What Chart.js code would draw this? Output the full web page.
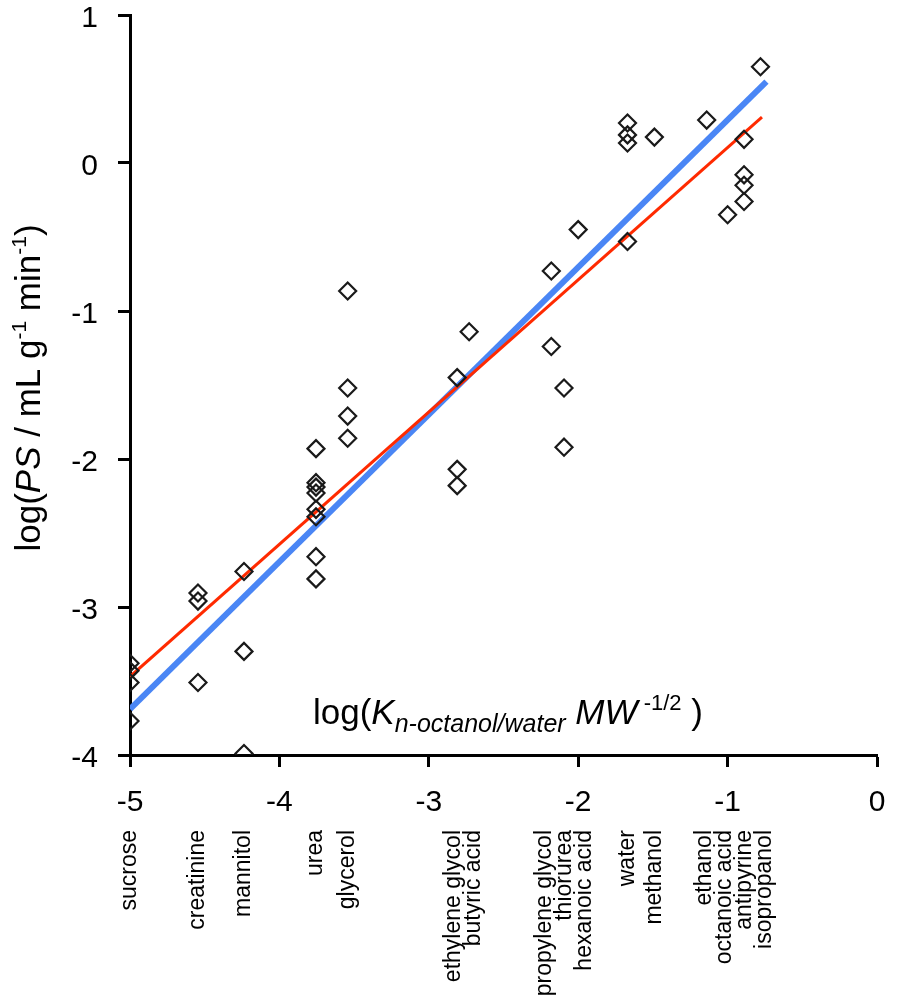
<!DOCTYPE html>
<html lang="en">
<head>
<meta charset="UTF-8">
<title>log PS vs log(K MW^-1/2)</title>
<style>
  html, body { margin: 0; padding: 0; background: #fff; }
  #wrap { width: 898px; height: 1003px; }
</style>
</head>
<body>
<div id="wrap"><canvas id="psChart" width="898" height="1003"></canvas></div>
<script src="https://cdn.jsdelivr.net/npm/chart.js"></script>
<script>
// compounds, their log(K n-octanol/water MW^-1/2) and measured log(PS)
const compounds = ['sucrose', 'creatinine', 'mannitol', 'urea', 'glycerol',
  'ethylene glycol', 'butyric acid', 'propylene glycol', 'thiorurea', 'hexanoic acid',
  'water', 'methanol', 'ethanol', 'octanoic acid', 'antipyrine', 'isopropanol'];
const compoundX = [-5.0, -4.545, -4.237, -3.755, -3.543,
  -2.81, -2.73, -2.18, -2.095, -2.0,
  -1.67, -1.49, -1.14, -1.0, -0.89, -0.78];
const compoundLogPS = [
  [-3.38, -3.43, -3.51, -3.77],
  [-2.905, -2.96, -3.51],
  [-2.76, -3.30, -3.99],
  [-1.93, -2.16, -2.19, -2.23, -2.34, -2.39, -2.66, -2.81],
  [-0.865, -1.52, -1.71, -1.86],
  [-1.45, -2.07, -2.18],
  [-1.14],
  [-0.73, -1.24],
  [-1.52, -1.92],
  [-0.45],
  [0.27, 0.19, 0.135, -0.53],
  [0.175],
  [0.29],
  [-0.35],
  [0.16, -0.08, -0.15, -0.26],
  [0.65]
];

const xTicks = [-5, -4, -3, -2, -1, 0];
const yTicks = [-4, -3, -2, -1, 0, 1];

// regression lines (end points)
const blueFitX = [-5, -0.74];
const blueFitY = [-3.69, 0.55];
const redFitX = [-5, -0.77];
const redFitY = [-3.47, 0.31];

const FONT = '"Liberation Sans", Arial, sans-serif';

const points = [];
compounds.forEach((c, i) => {
  compoundLogPS[i].forEach(v => points.push({ x: compoundX[i], y: v }));
});

// draws a list of text pieces one after the other (normal / italic / sub / sup)
function drawPieces(ctx, pieces, x, y) {
  let cx = x;
  pieces.forEach(p => {
    ctx.font = (p.italic ? 'italic ' : '') + p.size + 'px ' + FONT;
    ctx.fillText(p.t, cx, y + (p.dy || 0));
    cx += ctx.measureText(p.t).width;
  });
  return cx - x;
}
function piecesWidth(ctx, pieces) {
  let w = 0;
  pieces.forEach(p => {
    ctx.font = (p.italic ? 'italic ' : '') + p.size + 'px ' + FONT;
    w += ctx.measureText(p.t).width;
  });
  return w;
}

const xTitle = [
  { t: 'log(', size: 35 },
  { t: 'K', size: 35, italic: true },
  { t: 'n-octanol/water', size: 25, italic: true, dy: 8 },
  { t: ' MW', size: 35, italic: true },
  { t: ' -1/2', size: 22, dy: -14 },
  { t: ' )', size: 35 }
];
const yTitle = [
  { t: 'log(', size: 35 },
  { t: 'PS', size: 35, italic: true },
  { t: ' / mL g', size: 35 },
  { t: '-1', size: 21, dy: -14 },
  { t: ' min', size: 35 },
  { t: '-1', size: 21, dy: -14 },
  { t: ')', size: 35 }
];

const labelPlugin = {
  id: 'labels',
  afterDraw(chart) {
    const ctx = chart.ctx;
    const xs = chart.scales.x;
    ctx.save();
    ctx.fillStyle = '#000';
    ctx.textBaseline = 'alphabetic';

    // x axis title inside the plot
    drawPieces(ctx, xTitle, 313, 724);

    // y axis title, rotated
    const yw = piecesWidth(ctx, yTitle);
    ctx.save();
    ctx.translate(40, 388 + yw / 2);
    ctx.rotate(-Math.PI / 2);
    drawPieces(ctx, yTitle, 0, 0);
    ctx.restore();

    // compound names under the axis, spread so they do not overlap
    const gap = 20;
    let groups = compoundX.map((v, i) => ({ idx: [i], sum: xs.getPixelForValue(v) }));
    let merged = true;
    while (merged) {
      merged = false;
      for (let i = 0; i < groups.length - 1; i++) {
        const a = groups[i], b = groups[i + 1];
        const ca = a.sum / a.idx.length, cb = b.sum / b.idx.length;
        const aRight = ca + (a.idx.length - 1) * gap / 2;
        const bLeft = cb - (b.idx.length - 1) * gap / 2;
        if (bLeft - aRight < gap) {
          groups.splice(i, 2, { idx: a.idx.concat(b.idx), sum: a.sum + b.sum });
          merged = true;
          break;
        }
      }
    }
    ctx.font = '23px ' + FONT;
    ctx.textAlign = 'right';
    ctx.textBaseline = 'middle';
    groups.forEach(g => {
      const n = g.idx.length;
      const c = g.sum / n;
      g.idx.forEach((ci, k) => {
        const px = c + (k - (n - 1) / 2) * gap;
        ctx.save();
        ctx.translate(px, 830);
        ctx.rotate(-Math.PI / 2);
        ctx.fillText(compounds[ci], 0, 0);
        ctx.restore();
      });
    });
    ctx.restore();
  }
};

const axisCommon = {
  grid: { drawOnChartArea: false, drawTicks: true, tickLength: 12, tickWidth: 3, tickColor: '#000' },
  border: { display: true, color: '#000', width: 3 }
};

new Chart(document.getElementById('psChart'), {
  type: 'scatter',
  data: {
    datasets: [
      {
        label: 'compounds',
        data: points,
        pointStyle: 'rectRot',
        pointRadius: 8.5,
        pointBorderWidth: 2.2,
        pointBorderColor: '#1a1a1a',
        pointBackgroundColor: 'rgba(255,255,255,0)',
        order: 0
      },
      {
        label: 'fit red',
        data: redFitX.map((x, i) => ({ x: x, y: redFitY[i] })),
        showLine: true,
        borderColor: '#ff2a00',
        borderWidth: 3,
        pointRadius: 0,
        order: 1
      },
      {
        label: 'fit blue',
        data: blueFitX.map((x, i) => ({ x: x, y: blueFitY[i] })),
        showLine: true,
        borderColor: '#4a86f5',
        borderWidth: 6,
        pointRadius: 0,
        order: 2
      }
    ]
  },
  options: {
    responsive: false,
    animation: false,
    layout: { padding: { top: 15, right: 21, left: 0, bottom: 0 } },
    plugins: { legend: { display: false }, tooltip: { enabled: false } },
    scales: {
      x: {
        type: 'linear', min: -5, max: 0,
        afterFit: s => { s.height = 248; s.paddingLeft = 0; s.paddingRight = 0; },
        afterBuildTicks: s => { s.ticks = xTicks.map(v => ({ value: v })); },
        ticks: { color: '#000', padding: 21, font: { family: FONT, size: 30, lineHeight: 1 } },
        ...axisCommon
      },
      y: {
        type: 'linear', min: -4, max: 1,
        afterFit: s => { s.width = 130; s.paddingTop = 0; s.paddingBottom = 0; },
        afterBuildTicks: s => { s.ticks = yTicks.map(v => ({ value: v })); },
        ticks: { color: '#000', padding: 20, labelOffset: 4, font: { family: FONT, size: 30, lineHeight: 1 } },
        ...axisCommon
      }
    }
  },
  plugins: [labelPlugin]
});
</script>
</body>
</html>
